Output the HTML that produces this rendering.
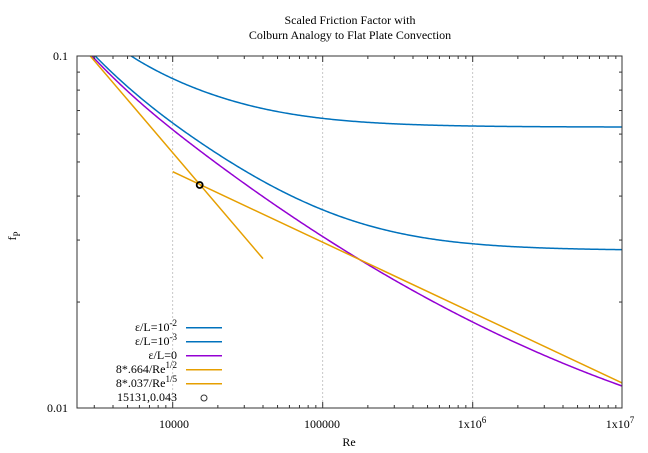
<!DOCTYPE html>
<html><head><meta charset="utf-8"><style>
html,body{margin:0;padding:0;background:#fff}
svg{display:block;font-family:"Liberation Serif",serif}
</style></head><body>
<svg id="s" width="648" height="453" viewBox="0 0 648 453" xmlns="http://www.w3.org/2000/svg">
<defs><clipPath id="cp"><rect x="77" y="56" width="545" height="352"/></clipPath></defs>
<rect width="648" height="453" fill="#fff"/>
<g id="grid"></g>
<g id="curves" fill="none" stroke-width="1.5" clip-path="url(#cp)"></g>
<rect x="77" y="56" width="545" height="352" fill="none" stroke="#333" stroke-width="1"/>
<g id="ticks" stroke="#333" stroke-width="1"></g>
<g font-size="12" fill="#000">
<text x="350" y="24" text-anchor="middle">Scaled Friction Factor with</text>
<text x="350" y="39" text-anchor="middle">Colburn Analogy to Flat Plate Convection</text>
<text x="68" y="60" text-anchor="end">0.1</text>
<text x="68" y="412" text-anchor="end">0.01</text>
<text x="174" y="428" text-anchor="middle">10000</text>
<text x="322" y="428" text-anchor="middle">100000</text>
<text x="472" y="428" text-anchor="middle">1x10<tspan dy="-5" font-size="9">6</tspan></text>
<text x="620" y="428" text-anchor="middle">1x10<tspan dy="-5" font-size="9">7</tspan></text>
<text x="349" y="446" text-anchor="middle">Re</text>
<text transform="translate(16,236) rotate(-90)" text-anchor="middle">f<tspan dy="4" font-size="9">P</tspan></text>
<text x="177" y="331" text-anchor="end">ε/L=10<tspan dy="-5" font-size="9">-2</tspan></text>
<text x="177" y="345" text-anchor="end">ε/L=10<tspan dy="-5" font-size="9">-3</tspan></text>
<text x="177" y="359" text-anchor="end">ε/L=0</text>
<text x="177" y="373" text-anchor="end">8*.664/Re<tspan dy="-5" font-size="9">1/2</tspan></text>
<text x="177" y="387" text-anchor="end">8*.037/Re<tspan dy="-5" font-size="9">1/5</tspan></text>
<text x="177" y="401" text-anchor="end">15131,0.043</text>
</g>
<g stroke-width="1.5">
<line x1="186" y1="327.7" x2="222" y2="327.7" stroke="#0072bd"/>
<line x1="186" y1="341.7" x2="222" y2="341.7" stroke="#0072bd"/>
<line x1="186" y1="355.7" x2="222" y2="355.7" stroke="#9400d3"/>
<line x1="186" y1="369.7" x2="222" y2="369.7" stroke="#e69f00"/>
<line x1="186" y1="383.7" x2="222" y2="383.7" stroke="#e69f00"/>
</g>
<circle cx="204" cy="398" r="3" fill="none" stroke="#333" stroke-width="1"/>
</svg>
<script>
var NS="http://www.w3.org/2000/svg";
function X(re){return 172.7+(Math.log10(re)-4)*150;}
function Y(f){return 56+(-1-Math.log10(f))*352;}
function el(p,t,a){var e=document.createElementNS(NS,t);for(var k in a)e.setAttribute(k,a[k]);p.appendChild(e);return e;}
var g=document.getElementById('grid'),tk=document.getElementById('ticks'),cv=document.getElementById('curves');
[1e4,1e5,1e6].forEach(function(r){var x=X(r);el(g,'line',{x1:x,y1:56,x2:x,y2:408,stroke:'#bbb','stroke-width':0.8,'stroke-dasharray':'2,2'});});
for(var d=3;d<=6;d++)for(var m=1;m<=9;m++){var r=m*Math.pow(10,d);var x=X(r);if(x<77||x>622)continue;var L=m==1?6:3;
el(tk,'line',{x1:x,y1:408,x2:x,y2:408-L});el(tk,'line',{x1:x,y1:56,x2:x,y2:56+L});}
for(var m=2;m<=9;m++){var y=Y(m/100);el(tk,'line',{x1:77,y1:y,x2:80,y2:y});el(tk,'line',{x1:622,y1:y,x2:619,y2:y});}
function fs(re){var L=Math.log10(re)-5;var v=-1.513-0.273*L+0.0302*L*L;if(L<-0.8)v-=0.054*Math.pow(L+0.8,3);return Math.pow(10,v);}
function fb(re,fr){var a=Math.pow(10,-1/(2*Math.sqrt(fs(re)))),b=Math.pow(10,-1/(2*Math.sqrt(fr)));var s=-2*Math.log10(a+b);return 1/(s*s);}
function path(fn){var d='';for(var i=0;i<=400;i++){var lr=3.3+i*(7-3.3)/400;var re=Math.pow(10,lr);d+=(i?'L':'M')+X(re).toFixed(2)+','+Y(fn(re)).toFixed(2);}return d;}
el(cv,'path',{d:path(function(r){return fb(r,0.0628);}),stroke:'#0072bd'});
el(cv,'path',{d:path(function(r){return fb(r,0.0280);}),stroke:'#0072bd'});
el(cv,'path',{d:path(fs),stroke:'#9400d3'});
el(cv,'line',{x1:X(2822),y1:56,x2:X(40000),y2:Y(5.312/200),stroke:'#e69f00'});
el(cv,'line',{x1:X(1e4),y1:Y(0.296/Math.pow(1e4,0.2)),x2:622,y2:Y(0.296/Math.pow(1e7,0.2)),stroke:'#e69f00'});
el(document.getElementById('s'),'circle',{cx:X(15131),cy:Y(0.043),r:3,fill:'none',stroke:'#000','stroke-width':1.8});
</script>
</body></html>
